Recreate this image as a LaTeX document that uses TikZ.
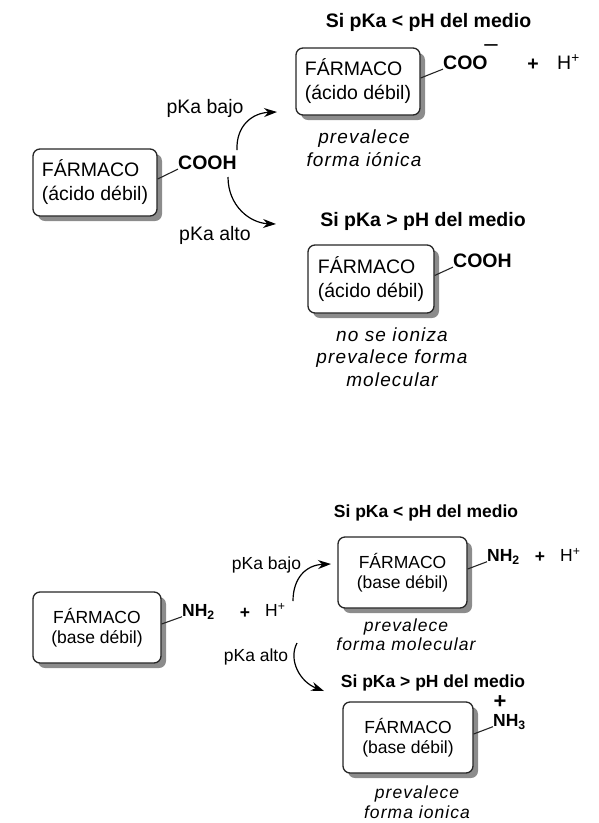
\documentclass[tikz,border=0pt]{standalone}
\usepackage{fontspec}
\setmainfont{Liberation Sans}
\newfontfamily\spit[LetterSpace=6]{Liberation Sans}
\usetikzlibrary{arrows.meta,shadows}
\begin{document}
\begin{tikzpicture}[x=1pt,y=-1pt,
 farbox/.style={draw=black!85, line width=1.3pt, rounded corners=7pt, fill=white,
   drop shadow={shadow xshift=5pt, shadow yshift=-5pt, fill=black!45, opacity=1}, inner sep=0pt},
 big/.style={font=\fontsize{19.5}{24}\selectfont},
 small/.style={font=\fontsize{17.5}{20.5}\selectfont},
 bigb/.style={font=\fontsize{19.5}{24}\selectfont\bfseries},
 smallb/.style={font=\fontsize{17.5}{20.5}\selectfont\bfseries},
 bignote/.style={inner sep=0pt, align=center, font={\spit\itshape\fontsize{19}{22.5}\selectfont}},
 smallnote/.style={inner sep=0pt, align=center, font={\spit\itshape\fontsize{17.5}{19.5}\selectfont}},
 lbl/.style={inner sep=0pt},
 bond/.style={line width=1.1pt, draw=black!85},
 reac/.style={line width=1.2pt, -{Stealth[length=13pt,width=9pt]}},
]
\useasboundingbox (0,0) rectangle (599,823);

% ---------------- top: weak acid ----------------
\node[farbox, big, align=left, minimum width=124pt, minimum height=67pt] (A) at (95,182.5) {FÁRMACO\\(ácido débil)};
\node[lbl, bigb, anchor=west] (Acooh) at (178,163) {COOH};
\draw[bond] ([yshift=3.5pt]A.east) -- ([yshift=1pt]Acooh.south west);

\node[lbl, bigb] (T1) at (428.5,22) {Si pKa < pH del medio};
\node[farbox, big, align=left, minimum width=124pt, minimum height=67pt] (B) at (358,81.5) {FÁRMACO\\(ácido débil)};
\node[lbl, bigb, anchor=west] (Bcoo) at (443,63) {COO};
\node[lbl, font=\fontsize{24}{24}\selectfont] (Bminus) at (491,48) {–};
\draw[bond] ([yshift=3.5pt]B.east) -- ([yshift=1pt]Bcoo.south west);
\node[lbl, bigb] (Bplus) at (533,65) {+};
\node[lbl, big, anchor=west] (BH) at (557,62) {H\textsuperscript{+}};
\node[bignote] (Bnote) at (364,148) {prevalece\\forma iónica};

\node[lbl, big] (Lbajo1) at (205,108) {pKa bajo};
\node[lbl, big] (Lalto1) at (215,235) {pKa alto};
\coordinate (s1) at (237,150);
\coordinate (e1) at (277,112);
\coordinate (s2) at (228,177);
\coordinate (e2) at (276,224);
\draw[reac] (s1) .. controls (236,126) and (252,113) .. (e1);
\draw[reac] (s2) .. controls (228,206) and (250,223) .. (e2);

\node[lbl, bigb] (T2) at (423,221) {Si pKa > pH del medio};
\node[farbox, big, align=left, minimum width=126pt, minimum height=68pt] (C) at (371,279) {FÁRMACO\\(ácido débil)};
\node[lbl, bigb, anchor=west] (Ccooh) at (453,261) {COOH};
\draw[bond] ([yshift=3.5pt]C.east) -- ([yshift=1pt]Ccooh.south west);
\node[bignote] (Cnote) at (392,357) {no se ioniza\\prevalece forma\\molecular};

% ---------------- bottom: weak base ----------------
\node[farbox, small, align=center, minimum width=128pt, minimum height=71pt] (D) at (97,627.5) {FÁRMACO\\(base débil)};
\node[lbl, smallb, anchor=west] (Dnh) at (182,612) {NH\textsubscript{2}};
\draw[bond] ([yshift=3.5pt]D.east) -- (Dnh.base west);
\node[lbl, smallb] (Dplus) at (245,613) {+};
\node[lbl, small, anchor=west] (DH) at (265,610) {H\textsuperscript{+}};

\node[lbl, small] (Lbajo2) at (266.5,565) {pKa bajo};
\node[lbl, small] (Lalto2) at (256,657) {pKa alto};
\coordinate (s3) at (293,601);
\coordinate (e3) at (331,564);
\coordinate (s4) at (297,643);
\coordinate (e4) at (324,691);
\draw[reac] (s3) .. controls (293,578) and (306,565) .. (e3);
\draw[reac] (s4) .. controls (288,660) and (300,682) .. (e4);

\node[lbl, smallb] (T3) at (426,513) {Si pKa < pH del medio};
\node[farbox, small, align=center, minimum width=129pt, minimum height=71pt] (E) at (402.5,572.5) {FÁRMACO\\(base débil)};
\node[lbl, smallb, anchor=west] (Enh) at (487,557) {NH\textsubscript{2}};
\draw[bond] ([yshift=3.5pt]E.east) -- (Enh.base west);
\node[lbl, smallb] (Eplus) at (540,557) {+};
\node[lbl, small, anchor=west] (EH) at (560,555) {H\textsuperscript{+}};
\node[smallnote] (Enote) at (406,634.5) {prevalece\\forma molecular};

\node[lbl, smallb] (T4) at (433,683) {Si pKa > pH del medio};
\node[farbox, small, align=center, minimum width=130pt, minimum height=71pt] (F) at (408,737.5) {FÁRMACO\\(base débil)};
\node[lbl, font=\fontsize{22}{22}\selectfont\bfseries] (Fplus) at (500,702) {+};
\node[lbl, smallb, anchor=west] (Fnh) at (493,722) {NH\textsubscript{3}};
\draw[bond] ([yshift=3.5pt]F.east) -- (Fnh.base west);
\node[smallnote] (Fnote) at (417,802) {prevalece\\forma ionica};
\end{tikzpicture}
\end{document}
